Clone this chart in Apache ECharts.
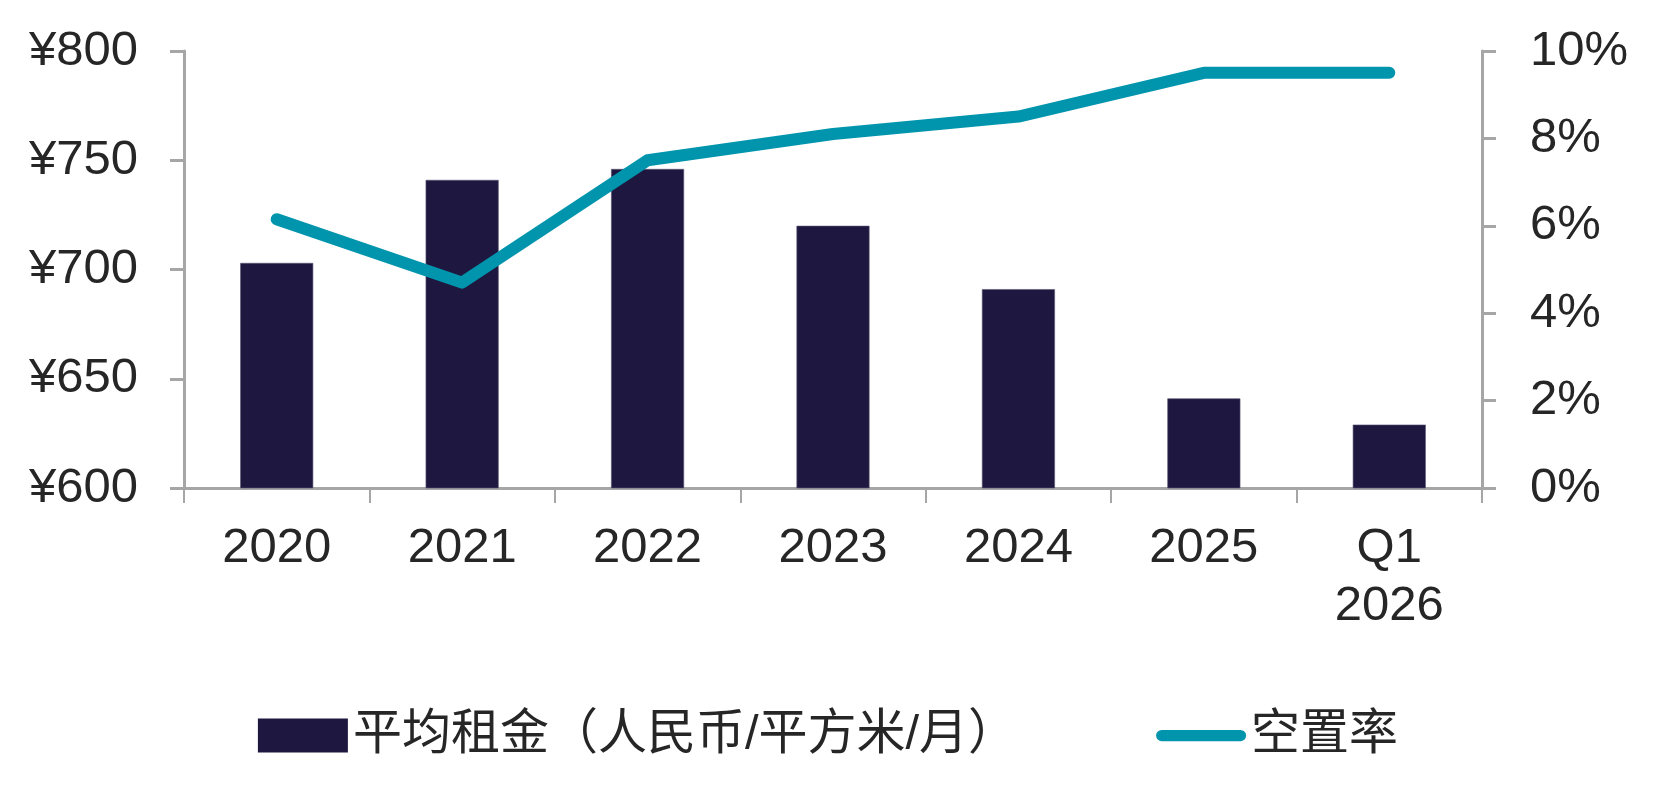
<!DOCTYPE html>
<html>
<head>
<meta charset="utf-8">
<script src="https://cdn.jsdelivr.net/npm/echarts@6/dist/echarts.min.js"></script>
<style>
html,body{margin:0;padding:0;background:#fff;}
#chart{width:1656px;height:792px;}
</style>
</head>
<body>
<div id="chart"></div>
<script>
var categories = ['2020', '2021', '2022', '2023', '2024', '2025', 'Q1\n2026'];
var rentValues = [703, 741, 746, 720, 691, 641, 629];
var vacancyValues = [6.15, 4.7, 7.5, 8.1, 8.5, 9.5, 9.5];
var rentTicks = { min: 600, max: 800, interval: 50 };
var vacancyTicks = { min: 0, max: 10, interval: 2 };
var rentName = '平均租金（人民币/平方米/月）';
var vacancyName = '空置率';

var latin = "'Liberation Sans', Arial, sans-serif";
var cjk = "'Liberation Sans', 'Noto Sans CJK SC', sans-serif";
var textColor = '#262626';
var axisColor = '#a6a6a6';

var chart = echarts.init(document.getElementById('chart'));
chart.setOption({
  animation: false,
  backgroundColor: '#ffffff',
  grid: { left: 184, right: 174, top: 51, bottom: 304, containLabel: false },
  legend: {
    left: 'center',
    top: 706,
    itemWidth: 90,
    itemHeight: 34,
    itemGap: 139,
    symbolKeepAspect: true,
    textStyle: { fontSize: 49, fontFamily: cjk, color: textColor },
    data: [
      { name: rentName, icon: 'rect', itemStyle: { borderWidth: 0 } },
      { name: vacancyName, icon: 'path://M6,0 L90,0 A6,6 0 0 1 90,12 L6,12 A6,6 0 0 1 6,0 Z' }
    ]
  },
  xAxis: {
    type: 'category',
    data: categories,
    boundaryGap: true,
    axisLine: { show: true, lineStyle: { color: axisColor, width: 3 } },
    axisTick: { show: true, interval: 0, length: 15, inside: false, lineStyle: { color: axisColor, width: 2 } },
    axisLabel: { interval: 0, margin: 31, fontSize: 49, lineHeight: 58, fontFamily: latin, color: textColor },
    splitLine: { show: false }
  },
  yAxis: [
    {
      type: 'value',
      min: rentTicks.min, max: rentTicks.max, interval: rentTicks.interval,
      axisLine: { show: true, lineStyle: { color: axisColor, width: 3 } },
      axisTick: { show: true, length: 14, inside: false, lineStyle: { color: axisColor, width: 3 } },
      axisLabel: { margin: 46, fontSize: 49, fontFamily: latin, color: textColor, formatter: function (v) { return '¥' + v; } },
      splitLine: { show: false }
    },
    {
      type: 'value',
      position: 'right',
      min: vacancyTicks.min, max: vacancyTicks.max, interval: vacancyTicks.interval,
      axisLine: { show: true, lineStyle: { color: axisColor, width: 3 } },
      axisTick: { show: true, length: 14, inside: false, lineStyle: { color: axisColor, width: 3 } },
      axisLabel: { margin: 48, fontSize: 49, fontFamily: latin, color: textColor, formatter: function (v) { return v + '%'; } },
      splitLine: { show: false }
    }
  ],
  series: [
    {
      name: rentName,
      type: 'bar',
      yAxisIndex: 0,
      data: rentValues,
      barWidth: 73,
      itemStyle: { color: '#1e1840', borderColor: '#5a5573', borderWidth: 0.6 }
    },
    {
      name: vacancyName,
      type: 'line',
      yAxisIndex: 1,
      data: vacancyValues,
      symbol: 'none',
      itemStyle: { color: '#0095ad' },
      lineStyle: { color: '#0095ad', width: 12, cap: 'round', join: 'round' },
      z: 5
    }
  ]
});
</script>
</body>
</html>
